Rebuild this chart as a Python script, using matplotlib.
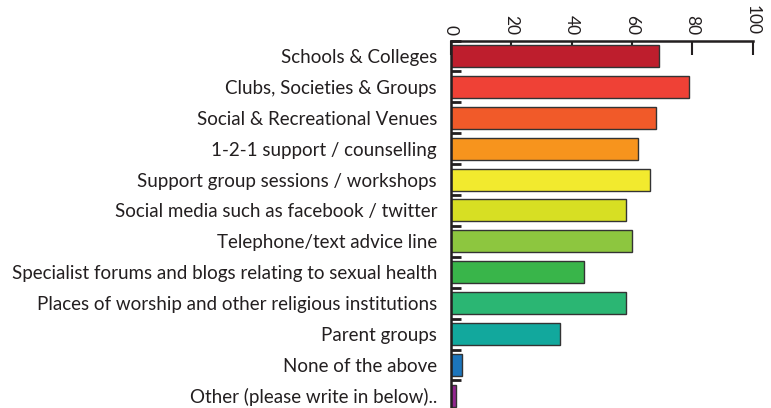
import matplotlib
matplotlib.use("Agg")
import matplotlib.pyplot as plt
import numpy as np

categories = [
    "Schools & Colleges",
    "Clubs, Societies & Groups",
    "Social & Recreational Venues",
    "1-2-1 support / counselling",
    "Support group sessions / workshops",
    "Social media such as facebook / twitter",
    "Telephone/text advice line",
    "Specialist forums and blogs relating to sexual health",
    "Places of worship and other religious institutions",
    "Parent groups",
    "None of the above",
    "Other (please write in below)..",
]
values = [69, 79, 68, 62, 66, 58, 60, 44, 58, 36, 3.5, 1.8]
colors = ["#BE1E2D", "#EF4136", "#F15A29", "#F7941D", "#F2EA2E", "#D7DF23",
          "#8DC63F", "#39B54A", "#2BB673", "#12A89D", "#1C75BC", "#92278F"]
xticks = [0, 20, 40, 60, 80, 100]

plt.rcParams['font.family'] = ['Lato', 'DejaVu Sans']

fig = plt.figure(figsize=(7.71, 4.08), dpi=100)
ax = fig.add_axes([451/771, (408-411.3)/408, (752.7-451)/771, 370.8/408])

y = np.arange(len(categories))
ax.barh(y, values, height=0.71, color=colors, edgecolor="#333333", linewidth=1.0, zorder=2)
ax.set_ylim(len(categories) - 0.5, -0.5)
ax.set_xlim(0, 100)

ax.set_yticks(y)
ax.set_yticklabels(categories, fontsize=13.5)
ax.tick_params(axis='y', which='major', length=0, pad=10, colors='#231F20')
ax.set_yticks(np.arange(len(categories)) - 0.5, minor=True)
ax.tick_params(axis='y', which='minor', length=7, width=2, direction='in', color='#231F20')

ax.xaxis.tick_top()
ax.set_xticks(xticks)
ax.set_xticklabels([str(t) for t in xticks], rotation=-90, fontsize=12.5)
ax.tick_params(axis='x', which='major', length=10, width=1.5, direction='in', pad=4,
               color='#231F20', labelcolor='#231F20')

for s in ['right', 'bottom']:
    ax.spines[s].set_visible(False)
for s in ['left', 'top']:
    ax.spines[s].set_linewidth(1.8)
    ax.spines[s].set_color('#231F20')

fig.savefig("out.png", dpi=100)
